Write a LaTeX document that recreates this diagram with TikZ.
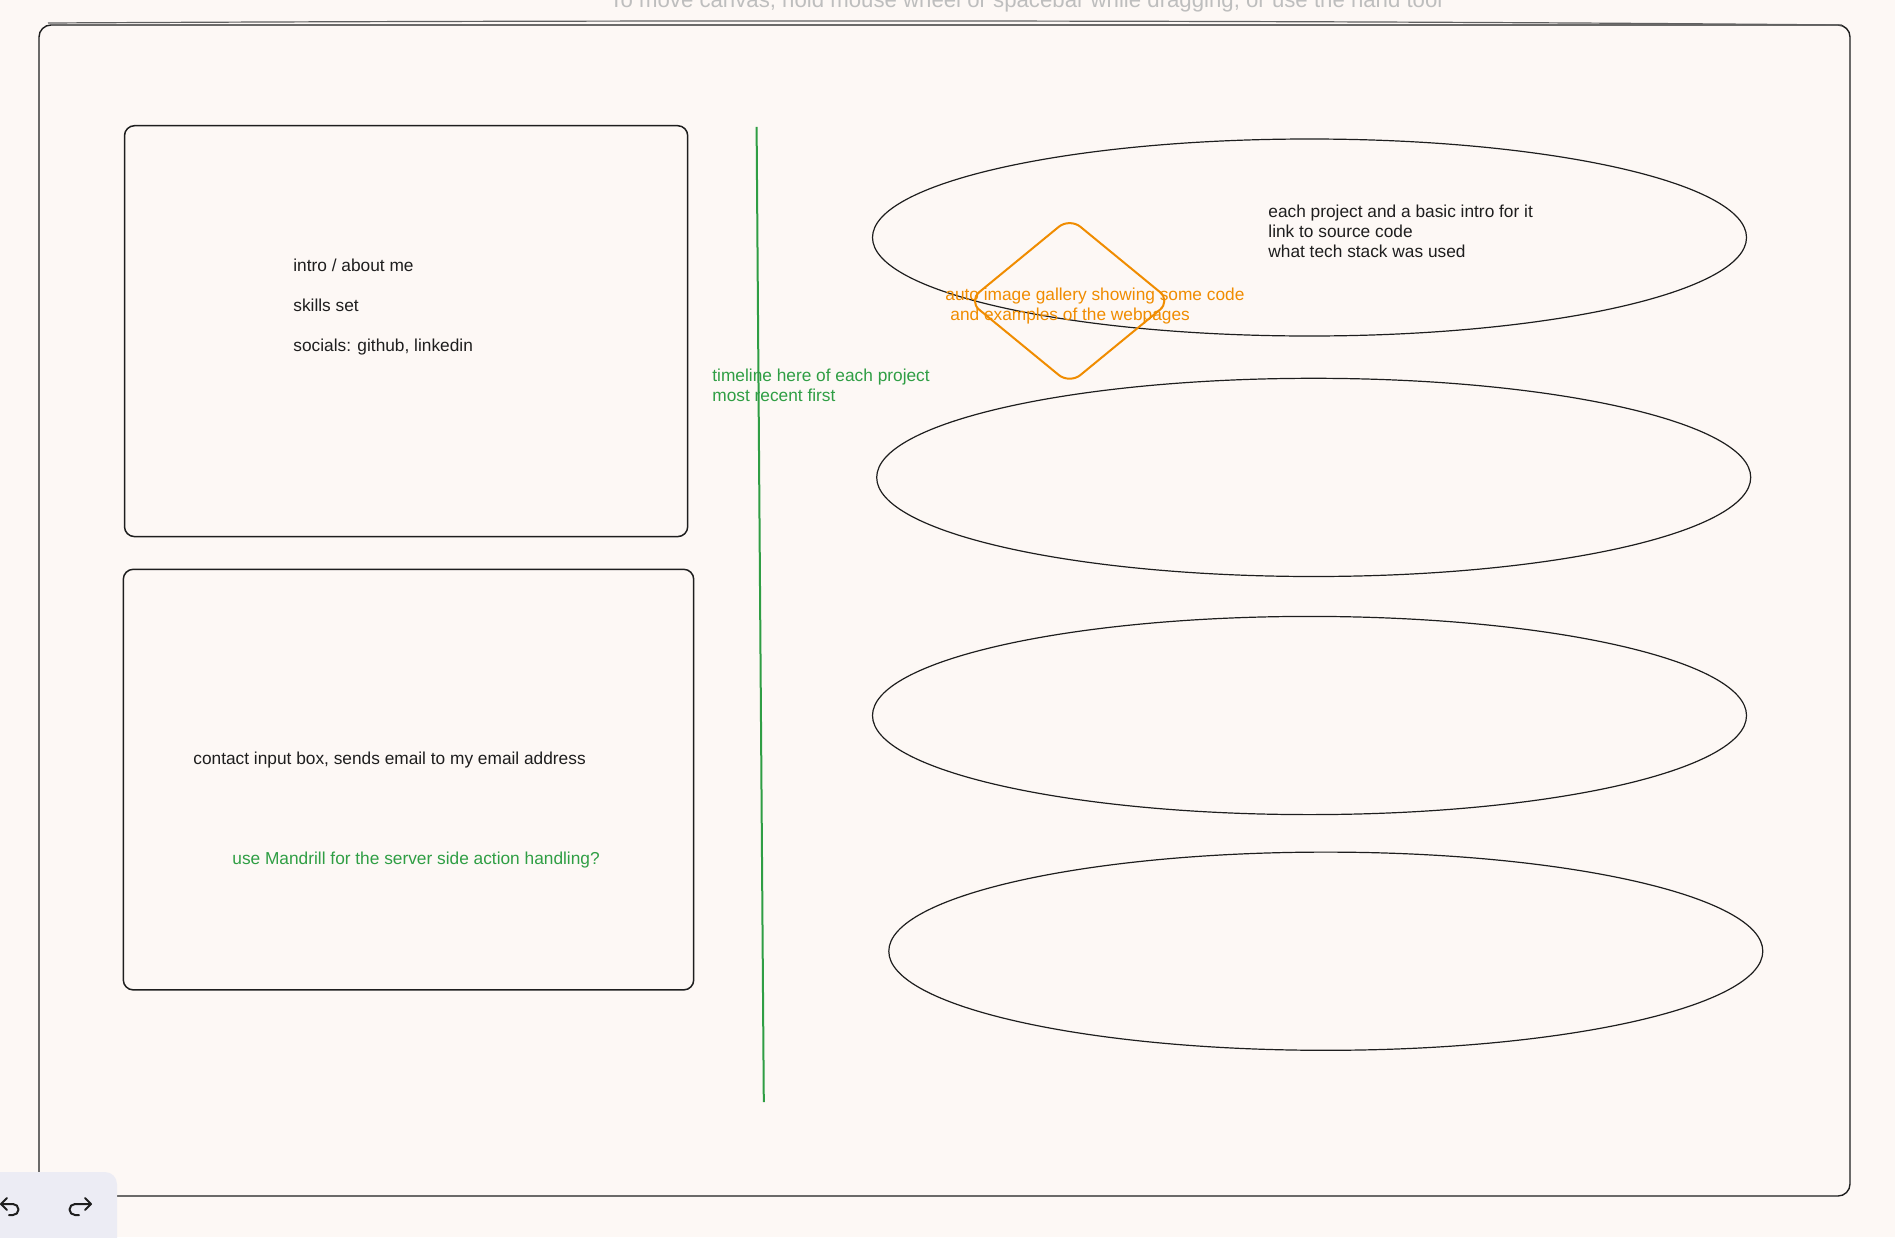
\documentclass[tikz,border=0pt]{standalone}
\usepackage{fontspec}
\setmainfont{Liberation Sans}
\usetikzlibrary{shapes.geometric}
\definecolor{bg}{RGB}{253,248,245}
\definecolor{ink}{RGB}{30,30,30}
\definecolor{grn}{RGB}{47,158,68}
\definecolor{org}{RGB}{240,140,0}
\definecolor{hint}{RGB}{190,190,190}
\definecolor{bar}{RGB}{236,236,244}
\begin{document}
\begin{tikzpicture}[x=0.5pt,y=-0.5pt,
  txt/.style={anchor=base west,inner sep=0pt,font=\fontsize{8.65pt}{10pt}\selectfont,text=ink},
  gtxt/.style={txt,text=grn},
  otxt/.style={txt,text=org},
  card/.style={draw=ink,line width=0.75pt,rounded corners=5pt,rectangle,inner sep=0pt},
  proj/.style={draw=ink,line width=0.6pt,ellipse,inner sep=0pt,minimum width=437pt,minimum height=98.5pt},
  gem/.style={draw=org,line width=1pt,diamond,rounded corners=7pt,inner sep=0pt,minimum width=101.5pt,minimum height=83.4pt},
  icon/.style={draw=ink,line width=1pt,line cap=round,line join=round}]
\useasboundingbox (0,0) rectangle (1895,1237);
\clip (0,0) rectangle (1895,1237);
\fill[bg] (0,0) rectangle (1895,1237);
% hint text
\node[anchor=base,inner sep=0pt,font=\fontsize{11.1pt}{13pt}\selectfont,text=hint] (hinttext) at (1026,7) {To move canvas, hold mouse wheel or spacebar while dragging, or use the hand tool};
% outer frame
\node[card,line width=0.7pt,rounded corners=6pt,minimum width=905.5pt,minimum height=585.5pt] (frame) at (944.5,610.5) {};
\draw[ink!70,line width=0.6pt] (48,23) .. controls (600,20) and (1300,20) .. (1842,25);
% left cards
\node[card,minimum width=281.6pt,minimum height=205.45pt] (about) at (406.1,331.15) {};
\node[card,minimum width=285.2pt,minimum height=210.3pt] (contact) at (408.5,779.6) {};
% timeline
\coordinate (tltop) at (756.6,126.9);
\coordinate (tlbot) at (763.8,1102.2);
\draw[grn,line width=1pt] (tltop) -- (tlbot);
% project ellipses
\node[proj] (p1) at (1309.5,237.5) {};
\node[proj,minimum height=99.1pt] (p2) at (1313.7,477.4) {};
\node[proj,minimum height=99.1pt] (p3) at (1309.5,715.5) {};
\node[proj,minimum height=99.1pt] (p4) at (1325.8,951.2) {};
% gallery diamond
\node[gem] (gallery) at (1069.6,300.9) {};
% texts
\node[txt] (t1) at (293,271) {intro / about me};
\node[txt] (t2) at (293,311) {skills set};
\node[txt] (t3) at (293,351) {socials: github, linkedin};
\node[txt] (t4) at (193,764) {contact input box, sends email to my email address};
\node[gtxt] (t5) at (232,864.5) {use Mandrill for the server side action handling?};
\node[gtxt] (t6) at (712,381.7) {timeline here of each project};
\node[gtxt] (t7) at (712,401.7) {most recent first};
\node[txt] (t8) at (1268,217) {each project and a basic intro for it};
\node[txt] (t9) at (1268,237) {link to source code};
\node[txt] (t10) at (1268,257) {what tech stack was used};
\node[otxt] (t11) at (945,300) {auto image gallery showing some code};
\node[otxt] (t12) at (950,320) {and examples of the webpages};
% toolbar
\fill[bar,rounded corners=6pt] (-20,1172) rectangle (117,1260);
\draw[icon] (7,1198) -- (1,1204) -- (7,1210);
\draw[icon] (1,1204) -- (13,1204) arc[start angle=90,end angle=-90,x radius=5.5,y radius=-5.5] -- (9,1215);
\draw[icon] (85,1198) -- (91,1204) -- (85,1210);
\draw[icon] (91,1204) -- (75,1204) arc[start angle=90,end angle=270,x radius=5.5,y radius=-5.5] -- (79,1215);
\end{tikzpicture}
\end{document}
